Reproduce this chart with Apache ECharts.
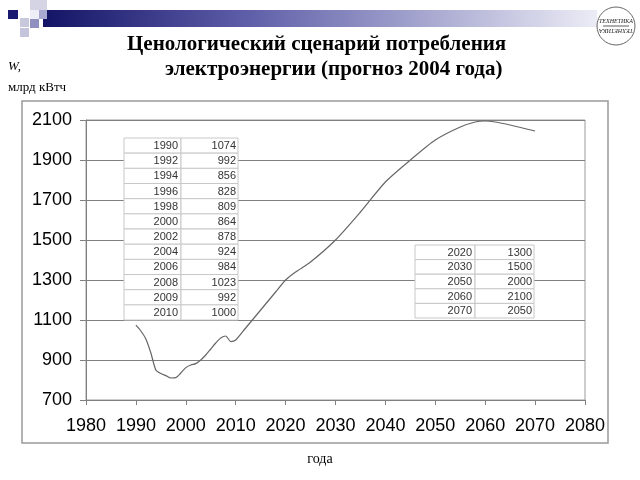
<!DOCTYPE html>
<html><head><meta charset="utf-8">
<script src="https://cdn.jsdelivr.net/npm/echarts@6/dist/echarts.min.js"></script>
<style>html,body{margin:0;padding:0;background:#fff}#c{width:640px;height:480px}</style>
</head><body><div id="c"></div>
<script>
// curve
var curveYears = [1990,1991,1992,1993,1994,1995,1996,1997,1998,1999,2000,2001,2002,2003,2004,2005,2006,2007,2008,2009,2010,2012,2015,2018,2020,2022,2025,2030,2035,2040,2045,2050,2055,2058,2060,2062,2065,2070];
var curveValues = [1074,1045,1005,935,850,832,822,810,812,835,862,875,882,900,925,955,985,1010,1020,992,1000,1060,1150,1240,1300,1340,1390,1500,1640,1790,1900,2000,2065,2090,2095,2090,2075,2045];
// tables
var tableLeftYears = ['1990','1992','1994','1996','1998','2000','2002','2004','2006','2008','2009','2010'];
var tableLeftValues = ['1074','992','856','828','809','864','878','924','984','1023','992','1000'];
var tableRightYears = ['2020','2030','2050','2060','2070'];
var tableRightValues = ['1300','1500','2000','2100','2050'];
// axis
var xMin = 1980, xMax = 2080, xStep = 10;
var yMin = 700, yMax = 2100, yStep = 200;
var titleLine1 = 'Ценологический сценарий потребления';
var titleLine2 = 'электроэнергии (прогноз 2004 года)';

var chart = echarts.init(document.getElementById('c'), null, {renderer:'canvas'});
var g = [];
// header decoration
g.push({type:'rect', shape:{x:43,y:10,width:554,height:17}, style:{fill:new echarts.graphic.LinearGradient(0,0,1,0,[{offset:0,color:'#141466'},{offset:0.35,color:'#5a5aa6'},{offset:1,color:'#ececf6'}])}});
var sq = [[8,10,10,9,'#1a1a70'],[30,0,17,10,'#d4d4e4'],[30,10,9,9,'#eeeef6'],[39,10,8,9,'#a8a8d0'],[20,18,9,9,'#c8c8dc'],[30,19,9,9,'#9090c0'],[20,28,9,9,'#c4c4dc']];
sq.forEach(function(s){g.push({type:'rect',shape:{x:s[0],y:s[1],width:s[2],height:s[3]},style:{fill:s[4]}});});
// logo
g.push({type:'circle', shape:{cx:616,cy:26,r:19}, style:{fill:'#fff',stroke:'#666',lineWidth:1}});
g.push({type:'text', x:616, y:21, style:{text:'ТЕХНЕТИКА', font:'italic 6px "Liberation Serif"', fill:'#222', align:'center', verticalAlign:'middle'}});
g.push({type:'line', shape:{x1:603,y1:26,x2:629,y2:26}, style:{stroke:'#333',lineWidth:0.8}});
g.push({type:'text', x:616, y:31, rotation:Math.PI, style:{text:'ТЕХНЕТИКА', font:'italic 6px "Liberation Serif"', fill:'#222', align:'center', verticalAlign:'middle'}});
// title
g.push({type:'text', x:127, y:45, style:{text:titleLine1, font:'bold 21px "Liberation Serif"', fill:'#000', align:'left', verticalAlign:'middle'}});
g.push({type:'text', x:165, y:70, style:{text:titleLine2, font:'bold 21px "Liberation Serif"', fill:'#000', align:'left', verticalAlign:'middle'}});
// unit labels
g.push({type:'text', x:8, y:67, style:{text:'W,', font:'italic 13px "Liberation Serif"', fill:'#000', verticalAlign:'middle'}});
g.push({type:'text', x:8, y:88, style:{text:'млрд кВтч', font:'13px "Liberation Serif"', fill:'#000', verticalAlign:'middle'}});
g.push({type:'text', x:320, y:459, style:{text:'года', font:'14px "Liberation Serif"', fill:'#000', align:'center', verticalAlign:'middle'}});
// frame
g.push({type:'rect', z:-10, shape:{x:22,y:101,width:586,height:342}, style:{fill:'none',stroke:'#999',lineWidth:1.5}});
// tables
function addTable(x, y, w1, w2, rh, ys, vs){
  for (var i=0;i<ys.length;i++){
    var yy = y + i*rh;
    g.push({type:'rect', z:10, shape:{x:x,y:yy,width:w1,height:rh}, style:{fill:'#fff',stroke:'#c8c8c8',lineWidth:1}});
    g.push({type:'rect', z:10, shape:{x:x+w1,y:yy,width:w2,height:rh}, style:{fill:'#fff',stroke:'#c8c8c8',lineWidth:1}});
    g.push({type:'text', z:11, x:x+w1-3, y:yy+rh/2+0.5, style:{text:ys[i], font:'11px "Liberation Sans"', fill:'#333', align:'right', verticalAlign:'middle'}});
    g.push({type:'text', z:11, x:x+w1+w2-2, y:yy+rh/2+0.5, style:{text:vs[i], font:'11px "Liberation Sans"', fill:'#333', align:'right', verticalAlign:'middle'}});
  }
}
addTable(124, 138, 57, 57, 15.17, tableLeftYears, tableLeftValues);
addTable(415, 245, 60, 59, 14.6, tableRightYears, tableRightValues);

function plain(v){ return String(v); }
chart.setOption({
  animation:false,
  grid:{left:86, right:55, top:120, bottom:80, show:true, borderColor:'#9a9a9a', borderWidth:1},
  xAxis:{type:'value', min:xMin, max:xMax, interval:xStep,
    axisLine:{show:true,lineStyle:{color:'#808080'}},
    axisTick:{show:true,length:5,lineStyle:{color:'#808080'}},
    axisLabel:{color:'#000', fontSize:18, fontFamily:'Liberation Sans', margin:17, formatter:plain},
    splitLine:{show:false}},
  yAxis:{type:'value', min:yMin, max:yMax, interval:yStep,
    axisLine:{show:true,lineStyle:{color:'#808080'}},
    axisTick:{show:true,length:6,lineStyle:{color:'#808080'}},
    axisLabel:{color:'#000', fontSize:18, fontFamily:'Liberation Sans', margin:14, formatter:plain},
    splitLine:{show:true,lineStyle:{color:'#808080',width:1}}},
  series:[{type:'line', data:curveYears.map(function(y,i){return [y,curveValues[i]];}),
    showSymbol:false, smooth:0.25, lineStyle:{color:'#666',width:1.2}, z:3}],
  graphic:g
});
</script></body></html>
